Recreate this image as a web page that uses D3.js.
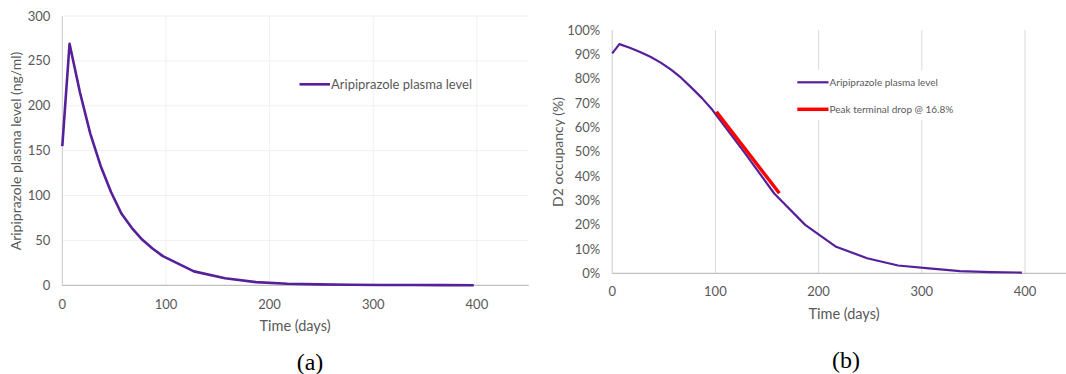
<!DOCTYPE html>
<html>
<head>
<meta charset="utf-8">
<script src="https://cdn.jsdelivr.net/npm/d3@7"></script>
<style>
  body { margin: 0; background: #fff; }
  svg { display: block; }
  text { font-family: Lato, "Open Sans", sans-serif; fill: #595959; }
  .caption { font-family: "Liberation Serif", "Times New Roman", serif; fill: #000; font-size: 24px; }
</style>
</head>
<body>
<svg id="chart" width="1066" height="374"></svg>
<script>
// panel (a): plasma level (ng/ml) vs time (days)
const plasmaDays = [0, 7, 17, 27, 37, 47, 57, 67, 77, 87, 97, 127, 157, 187, 217, 247, 277, 307, 337, 367, 397];
const plasmaLevel = [155, 269, 215, 169, 133, 104, 80, 64, 51, 41, 32.5, 15.5, 7.8, 3.5, 1.8, 1.0, 0.6, 0.4, 0.3, 0.2, 0.1];

// panel (b): D2 occupancy (fraction) vs time (days)
const occDays = [0, 7, 17, 27, 37, 47, 57, 67, 77, 87, 97, 127, 157, 187, 217, 247, 277, 307, 337, 367, 397];
const occValue = [0.904, 0.942, 0.927, 0.91, 0.89, 0.866, 0.837, 0.803, 0.762, 0.72, 0.672, 0.503, 0.328, 0.199, 0.109, 0.062, 0.032, 0.02, 0.009, 0.005, 0.003];

// red segment: peak terminal drop
const dropDays = [101, 162];
const dropValue = [0.664, 0.329];

const xTicks = [0, 100, 200, 300, 400];
const plasmaTicks = [0, 50, 100, 150, 200, 250, 300];
const occTicks = [0, 0.1, 0.2, 0.3, 0.4, 0.5, 0.6, 0.7, 0.8, 0.9, 1.0];

const purple = '#55209a';
const svg = d3.select('#chart');

function panel(opt) {
  const x = d3.scaleLinear().domain([0, 450]).range([opt.left, opt.right]);
  const y = d3.scaleLinear().domain(opt.yDomain).range([opt.bottom, opt.top]);
  const g = svg.append('g');

  // gridlines
  if (opt.hGrid) {
    g.append('g').selectAll('line').data(opt.yTicks.filter(d => d > 0)).join('line')
      .attr('x1', x(0)).attr('x2', x(450))
      .attr('y1', d => y(d)).attr('y2', d => y(d))
      .attr('stroke', opt.gridColor).attr('stroke-width', 1);
  }
  g.append('g').selectAll('line').data(xTicks.filter(d => d > 0)).join('line')
    .attr('x1', d => x(d)).attr('x2', d => x(d))
    .attr('y1', y(opt.yDomain[0])).attr('y2', y(opt.yDomain[1]))
    .attr('stroke', opt.gridColor).attr('stroke-width', 1);

  // axis lines
  g.append('line').attr('x1', x(0)).attr('x2', x(0)).attr('y1', y(opt.yDomain[0])).attr('y2', y(opt.yDomain[1]))
    .attr('stroke', '#c8c8c8');
  g.append('line').attr('x1', x(0)).attr('x2', x(450)).attr('y1', y(0)).attr('y2', y(0))
    .attr('stroke', '#bfbfbf').attr('stroke-width', 1.2);

  // tick labels
  g.append('g').selectAll('text').data(opt.yTicks).join('text')
    .attr('x', x(0) - 12).attr('y', d => y(d)).attr('dy', '0.35em')
    .attr('text-anchor', 'end').style('font-size', '13px')
    .text(opt.yFormat);
  g.append('g').selectAll('text').data(xTicks).join('text')
    .attr('x', d => x(d)).attr('y', opt.xTickY).attr('dy', '0.35em')
    .attr('text-anchor', 'middle').style('font-size', '13px')
    .text(d => d);

  // axis titles
  g.append('text')
    .attr('transform', `translate(${opt.yTitleX},${opt.yTitleY}) rotate(-90)`)
    .attr('text-anchor', 'middle').attr('dy', '0.35em').style('font-size', '14px')
    .text(opt.yTitle);
  g.append('text')
    .attr('x', opt.xTitleX).attr('y', opt.xTitleY).attr('dy', '0.35em')
    .attr('text-anchor', 'middle').style('font-size', '14.5px')
    .text('Time (days)');

  return { x, y, g };
}

// ---- panel (a)
const a = panel({
  left: 62.3, right: 528.7, top: 16, bottom: 285.3,
  yDomain: [0, 300], yTicks: plasmaTicks, yFormat: d => d,
  hGrid: true, gridColor: '#f0f0f0',
  xTickY: 304, yTitleX: 16, yTitleY: 151,
  yTitle: 'Aripiprazole plasma level (ng/ml)',
  xTitleX: 295, xTitleY: 326
});

a.g.append('path')
  .datum(plasmaDays.map((d, i) => [d, plasmaLevel[i]]))
  .attr('fill', 'none').attr('stroke', purple).attr('stroke-width', 2.6)
  .attr('stroke-linejoin', 'round')
  .attr('d', d3.line().x(d => a.x(d[0])).y(d => a.y(d[1])));

a.g.append('line').attr('x1', 299.5).attr('x2', 330).attr('y1', 84.3).attr('y2', 84.3)
  .attr('stroke', purple).attr('stroke-width', 2.6);
a.g.append('text').attr('x', 331).attr('y', 84.3).attr('dy', '0.35em')
  .style('font-size', '13px').text('Aripiprazole plasma level');

svg.append('text').attr('class', 'caption').attr('x', 310).attr('y', 362)
  .attr('text-anchor', 'middle').attr('dy', '0.35em').text('(a)');

// ---- panel (b)
const b = panel({
  left: 612.2, right: 612.2 + 4.5 * 103.2, top: 30, bottom: 273.3,
  yDomain: [0, 1], yTicks: occTicks, yFormat: d3.format('.0%'),
  hGrid: false, gridColor: '#d9d9d9',
  xTickY: 291, yTitleX: 558.5, yTitleY: 152,
  yTitle: 'D2 occupancy (%)',
  xTitleX: 844, xTitleY: 314
});

// legend background hides gridlines
b.g.append('rect').attr('x', 792).attr('y', 70).attr('width', 170).attr('height', 50).attr('fill', '#fff');

b.g.append('path')
  .datum(occDays.map((d, i) => [d, occValue[i]]))
  .attr('fill', 'none').attr('stroke', purple).attr('stroke-width', 2.2)
  .attr('stroke-linejoin', 'round')
  .attr('d', d3.line().x(d => b.x(d[0])).y(d => b.y(d[1])));

b.g.append('path')
  .datum(dropDays.map((d, i) => [d, dropValue[i]]))
  .attr('fill', 'none').attr('stroke', '#ff0000').attr('stroke-width', 3.5)
  .attr('d', d3.line().x(d => b.x(d[0])).y(d => b.y(d[1])));

b.g.append('line').attr('x1', 797.3).attr('x2', 828.5).attr('y1', 82.3).attr('y2', 82.3)
  .attr('stroke', purple).attr('stroke-width', 2.2);
b.g.append('text').attr('x', 829.5).attr('y', 82.3).attr('dy', '0.35em')
  .style('font-size', '10px').text('Aripiprazole plasma level');
b.g.append('line').attr('x1', 797.3).attr('x2', 828.5).attr('y1', 109.3).attr('y2', 109.3)
  .attr('stroke', '#ff0000').attr('stroke-width', 3.5);
b.g.append('text').attr('x', 829.5).attr('y', 109.3).attr('dy', '0.35em')
  .style('font-size', '10px').text('Peak terminal drop @ 16.8%');

svg.append('text').attr('class', 'caption').attr('x', 846).attr('y', 360)
  .attr('text-anchor', 'middle').attr('dy', '0.35em').text('(b)');
</script>
</body>
</html>
